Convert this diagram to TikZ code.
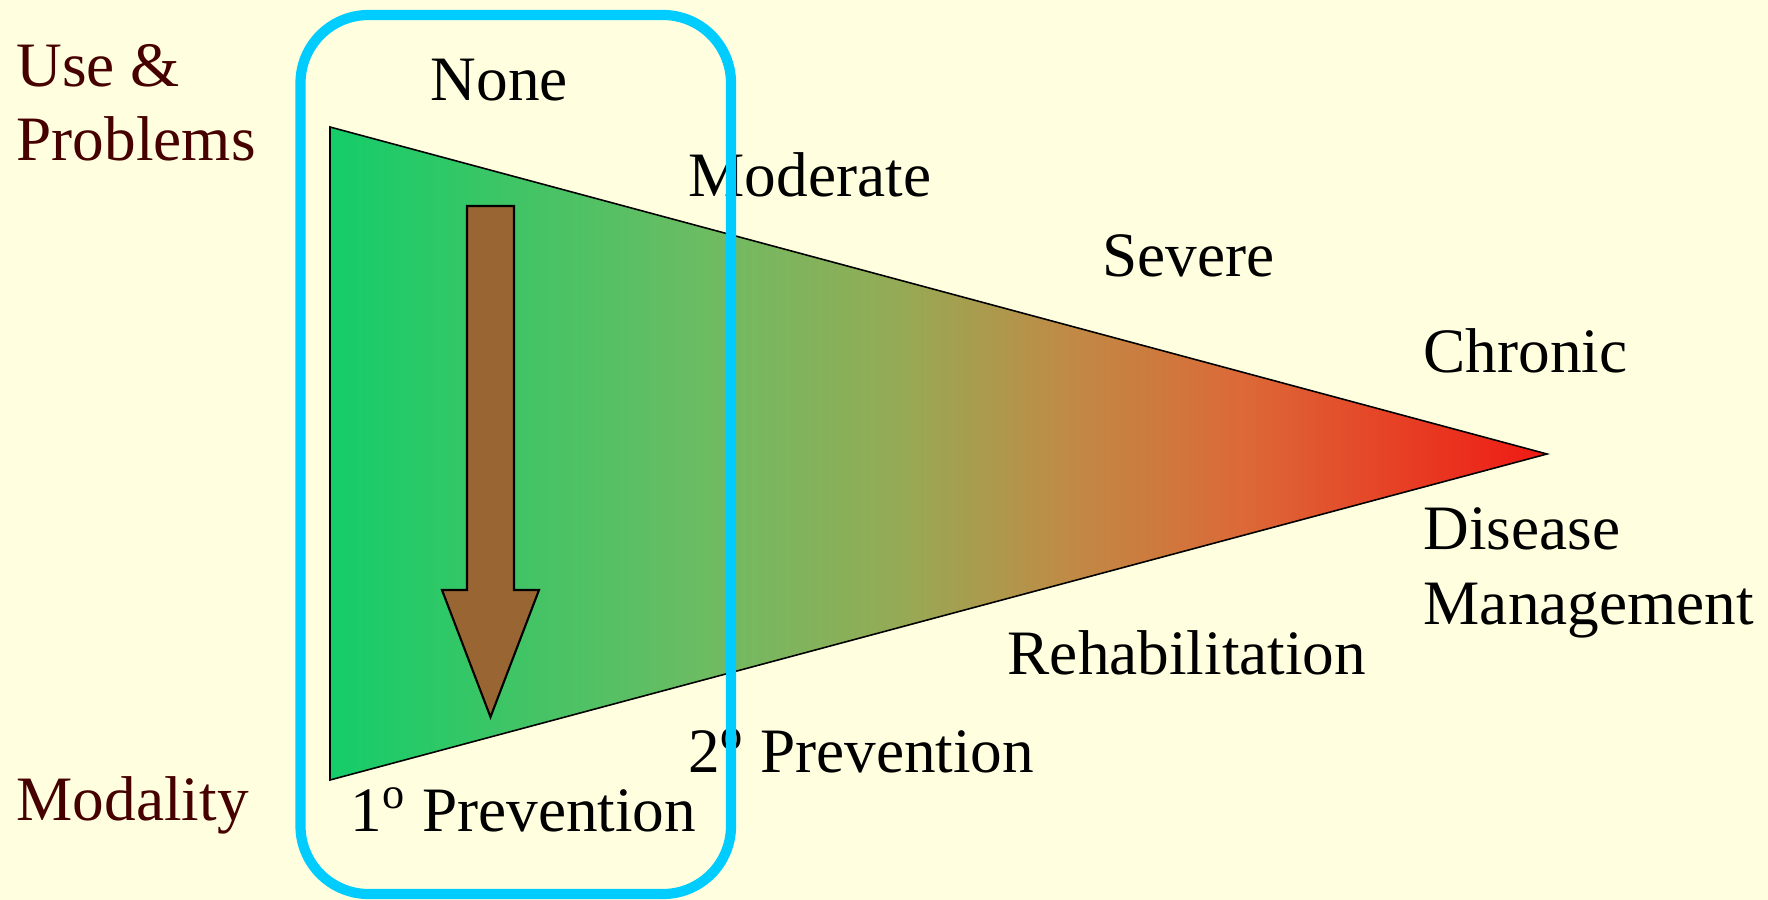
\documentclass[tikz,border=0pt]{standalone}
\usepackage{fontspec}
\setmainfont{Liberation Serif}
\definecolor{bgyellow}{RGB}{255,255,224}
\definecolor{maroon}{RGB}{70,0,0}
\definecolor{boxblue}{RGB}{0,204,255}
\definecolor{arrowbrown}{RGB}{153,102,51}
\definecolor{cga}{RGB}{20,205,105}
\definecolor{cgb}{RGB}{112,187,98}
\definecolor{cgc}{RGB}{150,170,85}
\definecolor{cgd}{RGB}{190,140,70}
\definecolor{cge}{RGB}{220,105,55}
\definecolor{cgf}{RGB}{240,25,20}
\pgfdeclarehorizontalshading{conegrad}{100bp}{color(0bp)=(cga); color(25bp)=(cga); color(41bp)=(cgb); color(48.5bp)=(cgc); color(55bp)=(cgd); color(62.5bp)=(cge); color(75bp)=(cgf); color(100bp)=(cgf)}
\tikzset{
  lbl/.style={anchor=base west, inner sep=0pt, text=black, font=\fontsize{18}{21}\selectfont},
  side/.style={lbl, text=maroon},
}
\begin{document}
\begin{tikzpicture}[x=0.1mm, y=-0.1mm]
\useasboundingbox (0,0) rectangle (1768,900);
\fill[bgyellow] (0,0) rectangle (1768,900);
% cone
\coordinate (ta) at (330,127);
\coordinate (tb) at (330,780);
\coordinate (tc) at (1547,454);
\draw[black, line width=0.45pt, shading=conegrad] (ta) -- (tc) -- (tb) -- cycle;
% block arrow
\draw[black, line width=0.6pt, fill=arrowbrown]
  (467,206) -- (514,206) -- (514,590) -- (539,590) -- (490.5,717) -- (442,590) -- (467,590) -- cycle;
% labels
\node[side] (use) at (16,87) {Use \&};
\node[side] (prob) at (16,161) {Problems};
\node[side] (moda) at (16,820) {Modality};
\node[lbl] (none) at (430,101) {None};
\node[lbl] (mod) at (688,197) {Moderate};
\node[lbl] (sev) at (1102,276) {Severe};
\node[lbl] (chr) at (1423,372) {Chronic};
\node[lbl] (dis) at (1423,549) {Disease};
\node[lbl] (man) at (1423,624) {Management};
\node[lbl] (reh) at (1007,674) {Rehabilitation};
\node[lbl] (sec) at (688,772) {2\textsuperscript{o} Prevention};
\node[lbl] (pri) at (350,831) {1\textsuperscript{o} Prevention};
% highlight box
\draw[boxblue, line width=2.9pt, rounded corners=6.8mm] (300.5,15) rectangle (731,894);
\end{tikzpicture}
\end{document}
